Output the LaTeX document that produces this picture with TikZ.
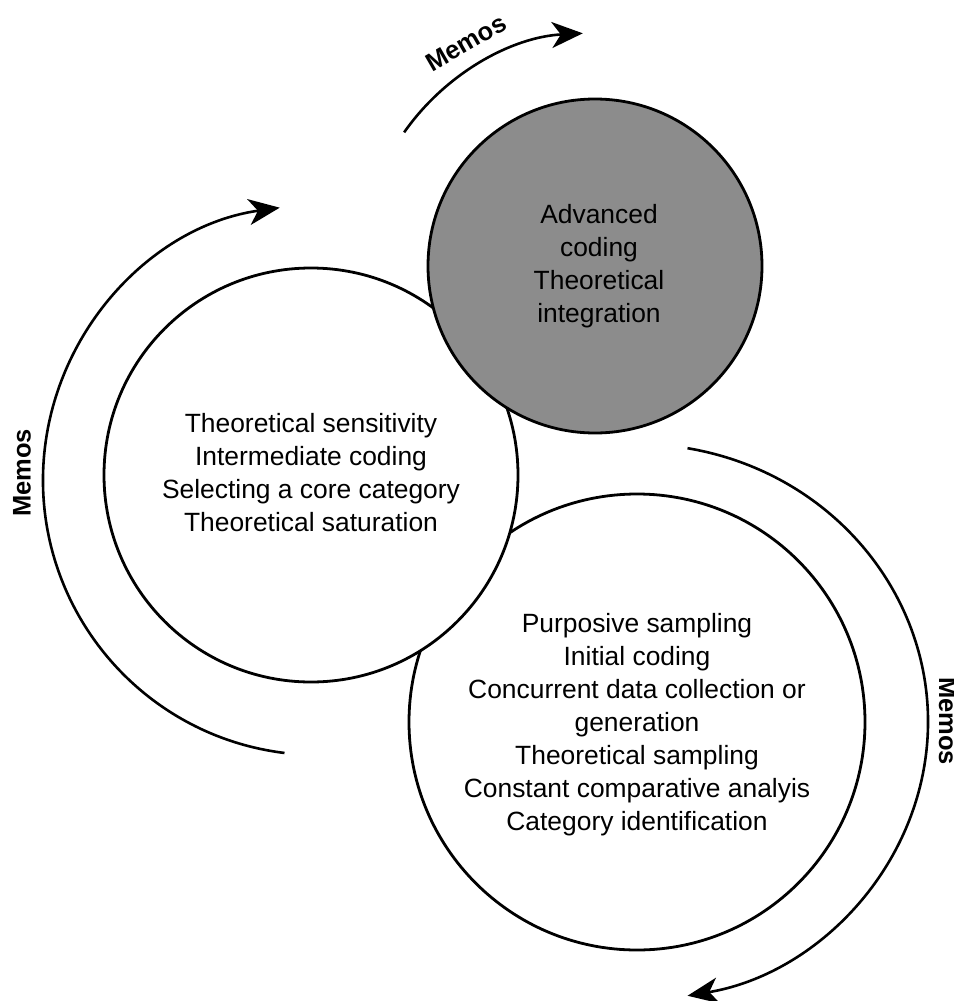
\documentclass[tikz,border=0pt]{standalone}
\usepackage{fontspec}
\setmainfont{Liberation Sans}
\usetikzlibrary{arrows.meta}
\tikzset{
  ring/.style={circle, draw=black, line width=2.8pt, fill=white, inner sep=0pt, minimum size=#1},
  body/.style={align=center, font=\fontsize{26.4}{33}\selectfont, inner sep=0pt},
  memo/.style={font=\bfseries\fontsize{25.5}{30}\selectfont, inner sep=0pt},
  flow/.style={line width=2.6pt, -{Stealth[length=31pt, width=26pt, inset=9pt]}}
}
\begin{document}
\begin{tikzpicture}[x=1pt, y=-1pt]
\useasboundingbox (0,0) rectangle (953,1001);
\clip (0,0) rectangle (953,1001);
% circles (bottom first, then middle, then grey on top)
\node[ring=456pt] (low) at (637,722) {};
\node[ring=414pt] (mid) at (311,475) {};
\node[ring=334pt, fill=black!45] (top) at (595,266) {};
% texts
\node[body] (toptext) at (599,266) {Advanced\\coding\\Theoretical\\integration};
\node[body] (midtext) at (311,473) {Theoretical sensitivity\\Intermediate coding\\Selecting a core category\\Theoretical saturation};
\node[body] (lowtext) at (637,725) {Purposive sampling\\Initial coding\\Concurrent data collection or\\generation\\Theoretical sampling\\Constant comparative analyis\\Category identification};
% memo arcs
\coordinate (tc) at (595,266);
\coordinate (lc) at (318,480);
\coordinate (ta) at ([shift={(215:233)}]tc);
\coordinate (la) at ([shift={(97:275)}]lc);
\coordinate (ra) at (687.5,448.2);
\draw[flow] (ta) arc[start angle=215, end angle=267, radius=233];
\draw[flow] (la) arc[start angle=97, end angle=262, radius=275];
\draw[flow] (ra) arc[start angle=-80, end angle=80, x radius=291, y radius=278];
% memo labels
\node[memo, rotate=30] (m1) at (466,43) {Memos};
\node[memo, rotate=90] (m2) at (22,473) {Memos};
\node[memo, rotate=-90, anchor=base] (m3) at (939,721) {Memos};
\end{tikzpicture}
\end{document}
